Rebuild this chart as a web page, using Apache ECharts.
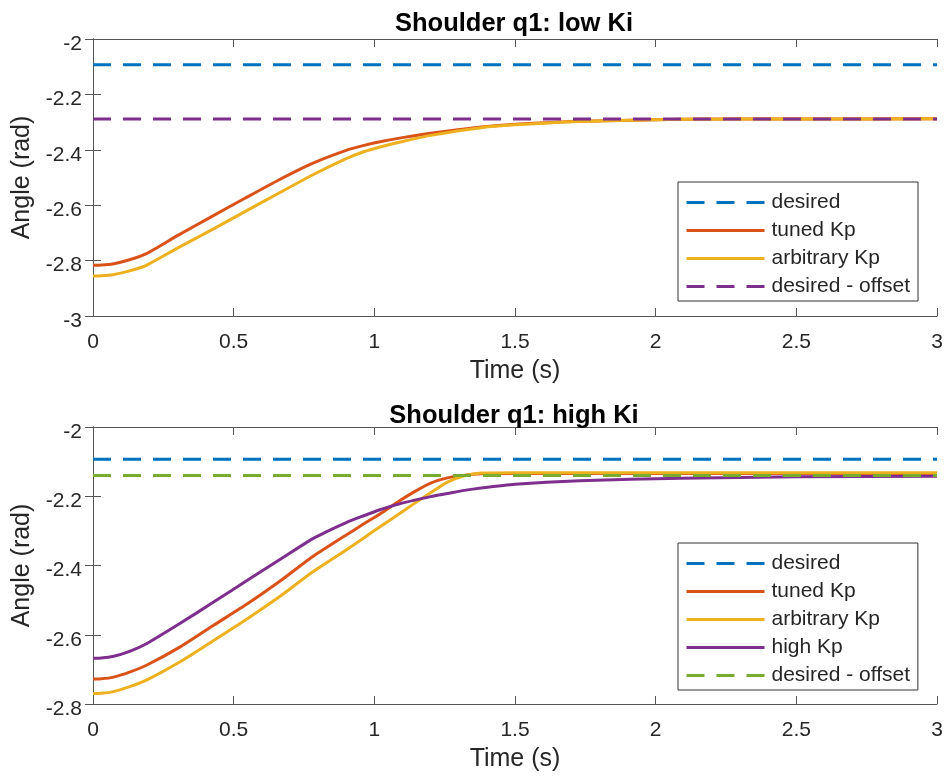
<!DOCTYPE html>
<html>
<head>
<meta charset="utf-8">
<script src="https://cdn.jsdelivr.net/npm/echarts@6/dist/echarts.min.js"></script>
<style>
html,body{margin:0;padding:0;background:#fff;}
#chart{width:947px;height:780px;}
</style>
</head>
<body>
<div id="chart"></div>
<script>
// ---- data ----
const titles = ['Shoulder q1: low Ki', 'Shoulder q1: high Ki'];
const xLabel = 'Time (s)';
const yLabel = 'Angle (rad)';
const legendTop = ['desired', 'tuned Kp', 'arbitrary Kp', 'desired - offset'];
const legendBot = ['desired', 'tuned Kp', 'arbitrary Kp', 'high Kp', 'desired - offset '];

const desiredVal = -2.093;
const offsetTop = -2.289;
const offsetBot = -2.14;

const timeTop = [0, 0.03, 0.07, 0.13, 0.19, 0.30, 0.42, 0.54, 0.66, 0.78, 0.90, 0.96, 1.02, 1.10, 1.20, 1.38, 1.50, 1.73, 2.09, 2.5, 3];
const tunedTop = [-2.817, -2.816, -2.812, -2.797, -2.775, -2.710, -2.642, -2.575, -2.509, -2.449, -2.402, -2.385, -2.371, -2.356, -2.340, -2.318, -2.308, -2.297, -2.290, -2.289, -2.288];
const arbitraryTop = [-2.856, -2.855, -2.851, -2.837, -2.817, -2.755, -2.690, -2.623, -2.557, -2.491, -2.432, -2.408, -2.390, -2.370, -2.348, -2.320, -2.310, -2.298, -2.290, -2.289, -2.288];

const timeBot = [0, 0.03, 0.07, 0.13, 0.19, 0.31, 0.43, 0.55, 0.67, 0.78, 0.90, 0.96, 1.02, 1.09, 1.14, 1.20, 1.26, 1.32, 1.38, 1.50, 1.73, 2.09, 2.5, 3];
const highBot = [-2.668, -2.667, -2.663, -2.648, -2.626, -2.567, -2.505, -2.442, -2.380, -2.323, -2.276, -2.257, -2.239, -2.222, -2.212, -2.201, -2.192, -2.183, -2.176, -2.165, -2.155, -2.148, -2.144, -2.142];
const tunedBot = [-2.728, -2.727, -2.723, -2.708, -2.688, -2.635, -2.572, -2.510, -2.442, -2.375, -2.312, -2.281, -2.251, -2.213, -2.188, -2.162, -2.147, -2.139, -2.135, -2.134, -2.134, -2.134, -2.134, -2.134];
const arbitraryBot = [-2.770, -2.769, -2.765, -2.750, -2.731, -2.678, -2.616, -2.553, -2.486, -2.419, -2.355, -2.322, -2.288, -2.250, -2.222, -2.190, -2.159, -2.141, -2.133, -2.132, -2.132, -2.132, -2.132, -2.132];

// ---- style ----
const C = {blue:'#0072BD', orange:'#D95319', yellow:'#EDB120', purple:'#7E2F8E', green:'#77AC30'};
const FONT = 'Liberation Sans, Arial, sans-serif';
const AX = '#555555';
const TXT = '#262626';
const DASH = [18, 12];

function pairs(xs, ys){ return xs.map((x,i)=>[x, ys[i]]); }
function flat(v){ return [[0, v], [3, v]]; }

function xAxes(gi){
  return [
    {gridIndex: gi, type:'value', min:0, max:3, interval:0.5, position:'bottom',
     name: xLabel, nameLocation:'middle', nameGap:43,
     nameTextStyle:{fontFamily:FONT, fontSize:25, color:TXT},
     axisLine:{show:true, lineStyle:{color:AX, width:1}},
     axisTick:{show:true, inside:true, length:8, lineStyle:{color:AX}},
     axisLabel:{fontFamily:FONT, fontSize:21, color:TXT, margin:16},
     splitLine:{show:false}},
    {gridIndex: gi, type:'value', min:0, max:3, interval:0.5, position:'top',
     axisLine:{show:true, lineStyle:{color:AX, width:1}},
     axisTick:{show:true, inside:true, length:8, lineStyle:{color:AX}},
     axisLabel:{show:false}, splitLine:{show:false}}
  ];
}
function yAxes(gi, min, max){
  return [
    {gridIndex: gi, type:'value', min:min, max:max, interval:0.2, position:'left',
     name: yLabel, nameLocation:'middle', nameGap:56,
     nameTextStyle:{fontFamily:FONT, fontSize:25, color:TXT},
     axisLine:{show:true, lineStyle:{color:AX, width:1}},
     axisTick:{show:true, inside:true, length:8, lineStyle:{color:AX}},
     axisLabel:{fontFamily:FONT, fontSize:21, color:TXT, margin:11, verticalAlign:'top', lineHeight:10},
     splitLine:{show:false}},
    {gridIndex: gi, type:'value', min:min, max:max, interval:0.2, position:'right',
     axisLine:{show:true, lineStyle:{color:AX, width:1}},
     axisTick:{show:true, inside:true, length:8, lineStyle:{color:AX}},
     axisLabel:{show:false}, splitLine:{show:false}}
  ];
}
function line(name, data, color, xi, yi, dashed){
  return {name, type:'line', xAxisIndex:xi, yAxisIndex:yi, data,
    showSymbol:false, symbol:'none', smooth: dashed ? false : 0.2,
    lineStyle:{color, width:3, type: dashed ? DASH : 'solid', cap:'butt', join:'round'},
    itemStyle:{color}, emphasis:{disabled:true}, animation:false};
}

const legendCommon = {
  orient:'vertical', itemWidth:78, itemHeight:20, itemGap:7,
  padding:[10, 8, 4, 7], backgroundColor:'#fff', borderColor:'#333', borderWidth:1,
  textStyle:{fontFamily:FONT, fontSize:21, color:TXT, padding:[0,0,0,2]},
  itemStyle:{opacity:0, color:'rgba(0,0,0,0)', borderWidth:0},
  lineStyle:{width:3},
  selectedMode:false
};

const option = {
  backgroundColor:'#fff',
  animation:false,
  title:[
    {text:titles[0], left:514, top:11, textAlign:'center', padding:0,
     textStyle:{fontFamily:FONT, fontSize:25.5, fontWeight:'bold', color:'#000'}},
    {text:titles[1], left:514, top:403, textAlign:'center', padding:0,
     textStyle:{fontFamily:FONT, fontSize:25.5, fontWeight:'bold', color:'#000'}}
  ],
  grid:[
    {left:93, top:39, width:844, height:277},
    {left:93, top:427, width:844, height:277}
  ],
  xAxis: [...xAxes(0), ...xAxes(1)],
  yAxis: [...yAxes(0, -3, -2), ...yAxes(1, -2.8, -2)],
  legend:[
    Object.assign({}, legendCommon, {left:678, top:182, data: legendTop}),
    Object.assign({}, legendCommon, {left:678, top:543, padding:[10, 2, 4, 7], data: legendBot})
  ],
  series:[
    line('desired', flat(desiredVal), C.blue, 0, 0, true),
    line('tuned Kp', pairs(timeTop, tunedTop), C.orange, 0, 0, false),
    line('arbitrary Kp', pairs(timeTop, arbitraryTop), C.yellow, 0, 0, false),
    line('desired - offset', flat(offsetTop), C.purple, 0, 0, true),

    line('desired', flat(desiredVal), C.blue, 2, 2, true),
    line('tuned Kp', pairs(timeBot, tunedBot), C.orange, 2, 2, false),
    line('arbitrary Kp', pairs(timeBot, arbitraryBot), C.yellow, 2, 2, false),
    line('high Kp', pairs(timeBot, highBot), C.purple, 2, 2, false),
    line('desired - offset ', flat(offsetBot), C.green, 2, 2, true)
  ]
};

const chart = echarts.init(document.getElementById('chart'), null, {renderer:'canvas'});
chart.setOption(option);
</script>
</body>
</html>
